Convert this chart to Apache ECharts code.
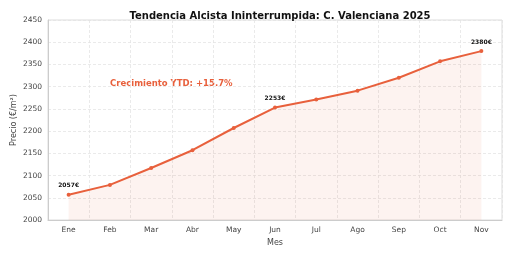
<!DOCTYPE html>
<html><head><meta charset="utf-8">
<script src="https://cdn.jsdelivr.net/npm/echarts@6/dist/echarts.min.js"></script>
<style>html,body{margin:0;padding:0;background:#fff}#c{width:512px;height:256px}</style>
</head><body><div id="c"></div>
<script>
var months = ['Ene','Feb','Mar','Abr','May','Jun','Jul','Ago','Sep','Oct','Nov'];
var prices = [2057,2079,2117,2157,2207,2253,2271,2291,2320,2357,2380];
var labeledIdx = [0,5,10];
var yTicks = {min:2000,max:2450,interval:50};
var titleText = 'Tendencia Alcista Ininterrumpida: C. Valenciana 2025';
var noteText = 'Crecimiento YTD: +15.7%';
var F = 'DejaVu Sans';
var chart = echarts.init(document.getElementById('c'), null, {renderer:'canvas'});
chart.setOption({
  animation:false,
  title:{text:titleText,left:275,top:6,textAlign:'center',textStyle:{fontFamily:F,fontSize:10,fontWeight:'bold',color:'#111'}},
  grid:{left:48,right:10,top:20,bottom:36,containLabel:false,outerBoundsMode:'none',show:true,borderColor:'#ddd',borderWidth:1,backgroundColor:'transparent'},
  xAxis:{type:'category',data:months,boundaryGap:true,name:'Mes',nameLocation:'middle',nameGap:19,nameMoveOverlap:false,
    nameTextStyle:{fontFamily:F,fontSize:8,color:'#444'},
    axisLine:{show:true,lineStyle:{color:'#ccc'}},axisTick:{show:false},
    axisLabel:{fontFamily:F,fontSize:7.5,color:'#444',margin:6,interval:0},
    splitLine:{show:true,interval:0,lineStyle:{color:'#e4e4e4',type:[3,2],width:0.8}}},
  yAxis:{type:'value',min:yTicks.min,max:yTicks.max,interval:yTicks.interval,name:'Precio (€/m²)',nameLocation:'middle',nameGap:30,nameMoveOverlap:false,
    nameTextStyle:{fontFamily:F,fontSize:8,color:'#444'},
    axisLine:{show:true,lineStyle:{color:'#ccc'}},axisTick:{show:false},
    axisLabel:{fontFamily:F,fontSize:7.5,color:'#444',margin:6,formatter:function(v){return String(v);}},
    splitLine:{show:true,lineStyle:{color:'#e4e4e4',type:[3,2],width:0.8}}},
  graphic:[{type:'text',left:110,top:79,style:{text:noteText,font:'bold 8.5px "DejaVu Sans"',fill:'#E8603C'}}],
  series:[{type:'line',data:prices.map(function(v,i){
      return labeledIdx.indexOf(i)>=0 ? {value:v,label:{show:true,position:'top',distance:4,formatter:function(p){return p.value+'€';},fontFamily:F,fontSize:6,fontWeight:'bold',color:'#111'}} : v;}),
    smooth:false,symbol:'circle',symbolSize:4,
    lineStyle:{color:'#E8603C',width:2},itemStyle:{color:'#E8603C'},
    areaStyle:{color:'rgba(232,96,60,0.11)',origin:'start'}}]
});
</script></body></html>
